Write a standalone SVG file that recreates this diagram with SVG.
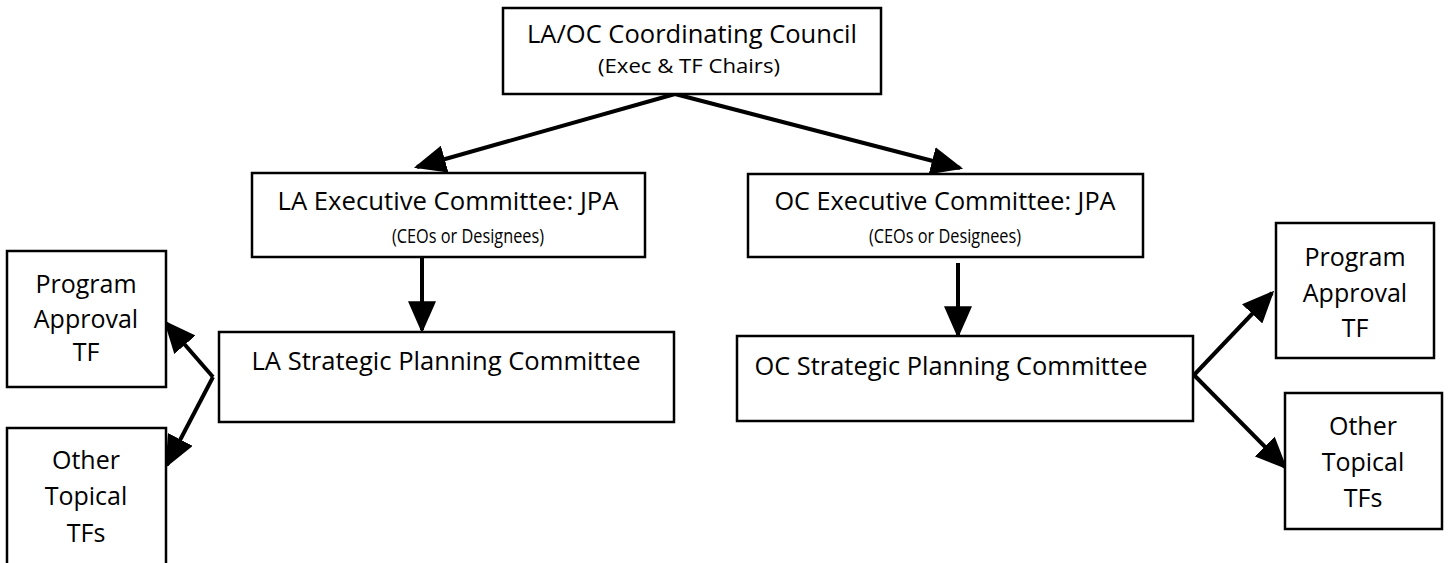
<svg xmlns="http://www.w3.org/2000/svg" width="1448" height="563" viewBox="0 0 1448 563">
<style>
.box{fill:#fff;stroke:#000;stroke-width:2.5}
.t{font-family:"Open Sans","Liberation Sans",sans-serif;font-size:25px;fill:#000;text-anchor:middle}
.s{font-family:"Open Sans","Liberation Sans",sans-serif;font-size:20px;fill:#000;text-anchor:middle}
.c{stroke:#000;stroke-width:4;fill:none;marker-end:url(#ah)}
</style>
<defs>
<marker id="ah" viewBox="0 0 10 10" refX="9" refY="5" markerWidth="32" markerHeight="28" markerUnits="userSpaceOnUse" orient="auto" preserveAspectRatio="none">
<path d="M0,0 L10,5 L0,10 z" fill="#000"/>
</marker>
</defs>
<rect width="1448" height="563" fill="#fff"/>
<g id="connectors">
<line class="c" x1="675" y1="94" x2="417" y2="167"/>
<line class="c" x1="675" y1="94" x2="960" y2="168"/>
<line class="c" x1="422" y1="257" x2="422" y2="330"/>
<line class="c" x1="958" y1="263" x2="958" y2="335"/>
<line class="c" x1="213" y1="377" x2="166" y2="323"/>
<line class="c" x1="213" y1="377" x2="167" y2="465"/>
<line class="c" x1="1194" y1="375" x2="1272" y2="293"/>
<line class="c" x1="1194" y1="375" x2="1285" y2="467"/>
</g>
<g id="council">
<rect class="box" x="503" y="8" width="378" height="86"/>
<text class="t" x="692" y="43" textLength="330" lengthAdjust="spacingAndGlyphs">LA/OC Coordinating Council</text>
<text class="s" x="689" y="73" textLength="182" lengthAdjust="spacingAndGlyphs">(Exec &amp; TF Chairs)</text>
</g>
<g id="la-exec">
<rect class="box" x="252" y="173" width="393" height="84"/>
<text class="t" x="448" y="210" textLength="341" lengthAdjust="spacingAndGlyphs">LA Executive Committee: JPA</text>
<text class="s" x="468" y="243" textLength="152" lengthAdjust="spacingAndGlyphs">(CEOs or Designees)</text>
</g>
<g id="oc-exec">
<rect class="box" x="748" y="174" width="395" height="83"/>
<text class="t" x="945" y="210" textLength="341" lengthAdjust="spacingAndGlyphs">OC Executive Committee: JPA</text>
<text class="s" x="945" y="243" textLength="152" lengthAdjust="spacingAndGlyphs">(CEOs or Designees)</text>
</g>
<g id="la-spc">
<rect class="box" x="219" y="332" width="455" height="90"/>
<text class="t" x="446" y="370" textLength="389" lengthAdjust="spacingAndGlyphs">LA Strategic Planning Committee</text>
</g>
<g id="oc-spc">
<rect class="box" x="737" y="336" width="456" height="85"/>
<text class="t" x="951" y="375" textLength="393" lengthAdjust="spacingAndGlyphs">OC Strategic Planning Committee</text>
</g>
<g id="la-pa">
<rect class="box" x="7" y="251" width="159" height="136"/>
<text class="t" x="86" y="293">Program</text>
<text class="t" x="86" y="328">Approval</text>
<text class="t" x="86" y="361">TF</text>
</g>
<g id="la-other">
<rect class="box" x="7" y="428" width="159" height="140"/>
<text class="t" x="86" y="469">Other</text>
<text class="t" x="86" y="505">Topical</text>
<text class="t" x="86" y="542">TFs</text>
</g>
<g id="oc-pa">
<rect class="box" x="1276" y="223" width="158" height="135"/>
<text class="t" x="1355" y="266">Program</text>
<text class="t" x="1355" y="302">Approval</text>
<text class="t" x="1355" y="337">TF</text>
</g>
<g id="oc-other">
<rect class="box" x="1285" y="393" width="157" height="136"/>
<text class="t" x="1363" y="435">Other</text>
<text class="t" x="1363" y="471">Topical</text>
<text class="t" x="1363" y="507">TFs</text>
</g>
</svg>
